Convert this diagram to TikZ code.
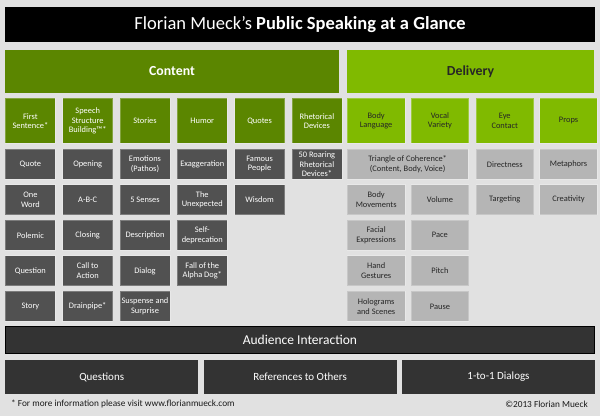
\documentclass[tikz,border=0pt]{standalone}
\usepackage{fontspec}
\setmainfont{Carlito}
\usetikzlibrary{positioning}
\definecolor{backdrop}{HTML}{E1E1E1}
\definecolor{contentgreen}{HTML}{5B8600}
\definecolor{deliverygreen}{HTML}{80BA00}
\definecolor{contentgrey}{HTML}{515151}
\definecolor{deliverygrey}{HTML}{B5B5B5}
\definecolor{coal}{HTML}{333333}
\tikzstyle{box} = [rectangle, inner sep=1pt, align=center, draw=white, draw opacity=0.25, line width=0.8pt, font=\fontsize{8.4}{9.5}\selectfont]
\tikzstyle{topic} = [box, fill=contentgreen, text=white, minimum width=50pt, minimum height=45pt]
\tikzstyle{item} = [box, fill=contentgrey, text=white, minimum width=50pt, minimum height=30pt]
\tikzstyle{dtopic} = [box, fill=deliverygreen, text=black!85, minimum width=57.5pt, minimum height=45pt]
\tikzstyle{ditem} = [box, fill=deliverygrey, text=black!85, minimum width=57.5pt, minimum height=30pt]
\tikzstyle{head} = [rectangle, minimum height=43pt, font=\fontsize{13.8}{15}\selectfont\bfseries]
\tikzstyle{bar} = [rectangle, fill=coal, text=white]
\tikzstyle{note} = [inner sep=0pt, text=black!90, font=\fontsize{9.3}{10}\selectfont]

\begin{document}
\begin{tikzpicture}[x=1pt, y=-1pt]
		\fill [backdrop] (0,0) rectangle (600,416);

		\node [rectangle, fill=black, text=white, minimum width=590pt, minimum height=35pt, font=\fontsize{18.5}{20}\selectfont] (title) at (300,24.5) {Florian Mueck’s \textbf{Public Speaking at a Glance}};
		\node [head, fill=contentgreen, text=white, minimum width=334pt] (content) at (172,71.5) {Content};
		\node [head, fill=deliverygreen, text=black!85, minimum width=247pt] (delivery) at (470.5,71.5) {Delivery};

		% content
		\node [topic, anchor=north west] (first) at (5,98) {First\\Sentence*};
		\node [topic, right=6.5pt of first] (structure) {Speech\\Structure\\Building™*};
		\node [topic, right=6.5pt of structure] (stories) {Stories};
		\node [topic, right=6.5pt of stories] (humor) {Humor};
		\node [topic, right=6.5pt of humor] (quotes) {Quotes};
		\node [topic, right=6.5pt of quotes] (devices) {Rhetorical\\Devices};

		\node [item, below=5pt of first] (quote) {Quote};
		\node [item, below=4.75pt of quote] (word) {One\\Word};
		\node [item, below=4.75pt of word] (polemic) {Polemic};
		\node [item, below=4.75pt of polemic] (question) {Question};
		\node [item, below=4.75pt of question] (story) {Story};

		\node [item, below=5pt of structure] (opening) {Opening};
		\node [item, below=4.75pt of opening] (abc) {A-B-C};
		\node [item, below=4.75pt of abc] (closing) {Closing};
		\node [item, below=4.75pt of closing] (action) {Call to\\Action};
		\node [item, below=4.75pt of action] (drainpipe) {Drainpipe*};

		\node [item, below=5pt of stories] (emotions) {Emotions\\(Pathos)};
		\node [item, below=4.75pt of emotions] (senses) {5 Senses};
		\node [item, below=4.75pt of senses] (description) {Description};
		\node [item, below=4.75pt of description] (dialog) {Dialog};
		\node [item, below=4.75pt of dialog] (suspense) {Suspense and\\Surprise};

		\node [item, below=5pt of humor] (exaggeration) {Exaggeration};
		\node [item, below=4.75pt of exaggeration] (unexpected) {The\\Unexpected};
		\node [item, below=4.75pt of unexpected] (selfdep) {Self-\\deprecation};
		\node [item, below=4.75pt of selfdep] (alphadog) {Fall of the\\Alpha Dog*};

		\node [item, below=5pt of quotes] (famous) {Famous\\People};
		\node [item, below=4.75pt of famous] (wisdom) {Wisdom};

		\node [item, below=5pt of devices] (roaring) {50 Roaring\\Rhetorical\\Devices*};

		% delivery
		\node [dtopic, anchor=north west] (body) at (347,98) {Body\\Language};
		\node [dtopic, right=5.5pt of body] (vocal) {Vocal\\Variety};
		\node [dtopic, right=6.5pt of vocal] (eye) {Eye\\Contact};
		\node [dtopic, right=5.5pt of eye] (props) {Props};

		\node [ditem, minimum width=120.5pt, below right=5pt and 0pt of body.south west] (triangle) {Triangle of Coherence*\\(Content, Body, Voice)};
		\node [ditem, below right=4.75pt and 0pt of triangle.south west] (movements) {Body\\Movements};
		\node [ditem, below=4.75pt of movements] (facial) {Facial\\Expressions};
		\node [ditem, below=4.75pt of facial] (gestures) {Hand\\Gestures};
		\node [ditem, below=4.75pt of gestures] (holograms) {Holograms\\and Scenes};

		\node [ditem, right=5.5pt of movements] (volume) {Volume};
		\node [ditem, below=4.75pt of volume] (pace) {Pace};
		\node [ditem, below=4.75pt of pace] (pitch) {Pitch};
		\node [ditem, below=4.75pt of pitch] (pause) {Pause};

		\node [ditem, below=5pt of eye] (directness) {Directness};
		\node [ditem, below=4.75pt of directness] (targeting) {Targeting};
		\node [ditem, below=5pt of props] (metaphors) {Metaphors};
		\node [ditem, below=4.75pt of metaphors] (creativity) {Creativity};

		% audience
		\node [bar, draw=black, line width=0.8pt, anchor=north west, minimum width=589pt, minimum height=27pt, font=\fontsize{13.5}{15}\selectfont] (audience) at (5,326) {Audience Interaction};
		\node [bar, minimum width=193pt, minimum height=34pt, font=\fontsize{11}{13}\selectfont, below right=6pt and 0pt of audience.south west] (questions) {Questions};
		\node [bar, minimum width=193pt, minimum height=34pt, font=\fontsize{11}{13}\selectfont, right=5pt of questions] (references) {References to Others};
		\node [bar, minimum width=193pt, minimum height=34pt, font=\fontsize{11}{13}\selectfont, right=5pt of references] (dialogs) {1-to-1 Dialogs};

		\node [note, anchor=west] (info) at (11,404) {* For more information please visit www.florianmueck.com};
		\node [note, anchor=east] (copyright) at (588,404) {©2013 Florian Mueck};
	\end{tikzpicture}
\end{document}
